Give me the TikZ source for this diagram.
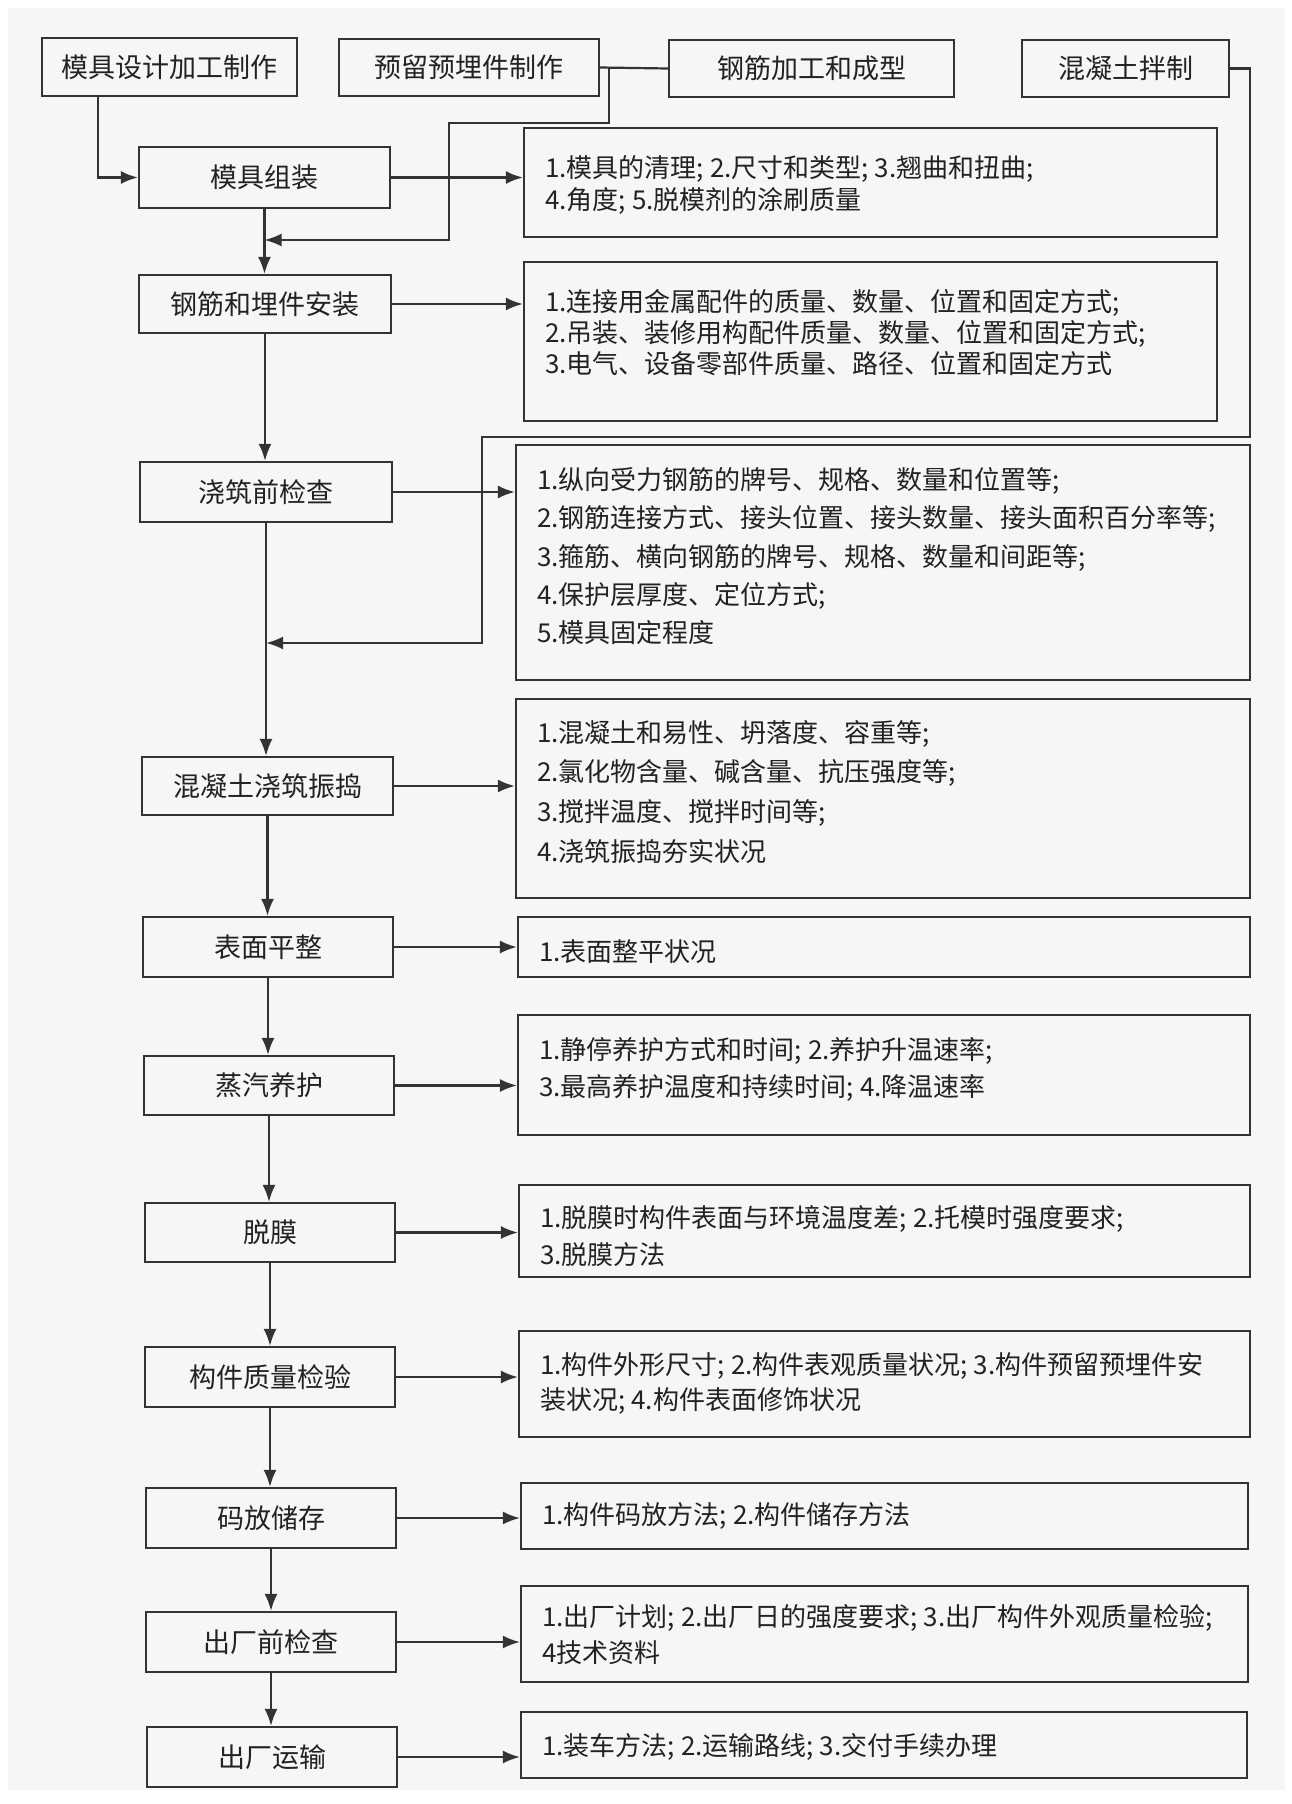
\documentclass[tikz,border=0pt]{standalone}
\usepackage{fontspec}
\setmainfont{Noto Sans CJK SC}
\usetikzlibrary{arrows.meta}

\definecolor{lineGray}{HTML}{333333}
\definecolor{inkGray}{HTML}{222222}
\definecolor{paperGray}{HTML}{F6F6F6}

\tikzset{
  stepbox/.style={draw=lineGray, line width=1.1pt, inner sep=0pt, text=inkGray,
    font=\fontsize{13.5pt}{16pt}\selectfont},
  checkText/.style={anchor=north west, align=left, inner sep=0pt, text=inkGray},
  link/.style={draw=lineGray, line width=1.1pt},
  arr/.style={link, -{Latex[length=8.5pt,width=6.5pt]}}
}

% box from its corners: name, x1, y1, x2, y2, text
\newcommand{\flowBox}[6]{%
  \pgfmathsetmacro{\boxW}{(#4-#2)/2}%
  \pgfmathsetmacro{\boxH}{(#5-#3)/2}%
  \node[stepbox, minimum width=\boxW pt, minimum height=\boxH pt] (#1) at ({(#2+#4)/2},{(#3+#5)/2}) {#6};}

% text font of the check boxes, with its line distance
\newcommand{\checkFont}[1]{\fontsize{13pt}{#1pt}\selectfont}

\begin{document}
\begin{tikzpicture}[x=0.5pt, y=-0.5pt]

    \def\textIn{22}

    %% paper
    \useasboundingbox (0,0) rectangle (1291,1804);
    \fill[white] (0,0) rectangle (1291,1804);
    \fill[paperGray] (8,8) rectangle (1285,1790);

    % draw top row
    \flowBox{mjsj}{42}{38}{297}{96}{模具设计加工制作}
    \flowBox{ylyz}{339}{39}{599}{96}{预留预埋件制作}
    \flowBox{gjjg}{669}{40}{954}{97}{钢筋加工和成型}
    \flowBox{hntbz}{1022}{40}{1229}{97}{混凝土拌制}

    % draw main steps
    \flowBox{mjzz}{139}{147}{390}{208}{模具组装}
    \flowBox{gjaz}{139}{275}{391}{333}{钢筋和埋件安装}
    \flowBox{jzqjc}{140}{462}{392}{522}{浇筑前检查}
    \flowBox{hntzd}{142}{757}{393}{815}{混凝土浇筑振捣}
    \flowBox{bmpz}{143}{917}{393}{977}{表面平整}
    \flowBox{zqyh}{144}{1056}{394}{1115}{蒸汽养护}
    \flowBox{tm}{145}{1203}{395}{1262}{脱膜}
    \flowBox{gjjy}{145}{1347}{395}{1407}{构件质量检验}
    \flowBox{mfcc}{146}{1488}{396}{1548}{码放储存}
    \flowBox{ccjc}{146}{1612}{396}{1672}{出厂前检查}
    \flowBox{ccys}{147}{1727}{397}{1787}{出厂运输}

    % draw check boxes
    \flowBox{mjzzC}{524}{128}{1217}{237}{}
    \flowBox{gjazC}{524}{262}{1217}{421}{}
    \flowBox{jzqjcC}{516}{445}{1250}{680}{}
    \flowBox{hntzdC}{516}{699}{1250}{898}{}
    \flowBox{bmpzC}{518}{917}{1250}{977}{}
    \flowBox{zqyhC}{518}{1015}{1250}{1135}{}
    \flowBox{tmC}{519}{1185}{1250}{1277}{}
    \flowBox{gjjyC}{519}{1331}{1250}{1437}{}
    \flowBox{mfccC}{521}{1483}{1248}{1549}{}
    \flowBox{ccjcC}{521}{1586}{1248}{1682}{}
    \flowBox{ccysC}{521}{1712}{1247}{1778}{}

    % check texts
    \node[checkText, font=\checkFont{16}] (mjzzT) at ([shift={(\textIn,28)}]mjzzC.north west)
      {1.模具的清理; 2.尺寸和类型; 3.翘曲和扭曲;\\4.角度; 5.脱模剂的涂刷质量};
    \node[checkText, font=\checkFont{15.5}] (gjazT) at ([shift={(\textIn,28)}]gjazC.north west)
      {1.连接用金属配件的质量、数量、位置和固定方式;\\2.吊装、装修用构配件质量、数量、位置和固定方式;\\3.电气、设备零部件质量、路径、位置和固定方式};
    \node[checkText, font=\checkFont{19.2}] (jzqjcT) at ([shift={(\textIn,23)}]jzqjcC.north west)
      {1.纵向受力钢筋的牌号、规格、数量和位置等;\\2.钢筋连接方式、接头位置、接头数量、接头面积百分率等;\\3.箍筋、横向钢筋的牌号、规格、数量和间距等;\\4.保护层厚度、定位方式;\\5.模具固定程度};
    \node[checkText, font=\checkFont{19.8}] (hntzdT) at ([shift={(\textIn,22)}]hntzdC.north west)
      {1.混凝土和易性、坍落度、容重等;\\2.氯化物含量、碱含量、抗压强度等;\\3.搅拌温度、搅拌时间等;\\4.浇筑振捣夯实状况};
    \node[checkText, font=\checkFont{18}] (bmpzT) at ([shift={(\textIn,23)}]bmpzC.north west)
      {1.表面整平状况};
    \node[checkText, font=\checkFont{18.5}] (zqyhT) at ([shift={(\textIn,23)}]zqyhC.north west)
      {1.静停养护方式和时间; 2.养护升温速率;\\3.最高养护温度和持续时间; 4.降温速率};
    \node[checkText, font=\checkFont{18.5}] (tmT) at ([shift={(\textIn,21)}]tmC.north west)
      {1.脱膜时构件表面与环境温度差; 2.托模时强度要求;\\3.脱膜方法};
    \node[checkText, font=\checkFont{17.5}] (gjjyT) at ([shift={(\textIn,22)}]gjjyC.north west)
      {1.构件外形尺寸; 2.构件表观质量状况; 3.构件预留预埋件安\\装状况; 4.构件表面修饰状况};
    \node[checkText, font=\checkFont{18}] (mfccT) at ([shift={(\textIn,20)}]mfccC.north west)
      {1.构件码放方法; 2.构件储存方法};
    \node[checkText, font=\checkFont{18}] (ccjcT) at ([shift={(\textIn,19)}]ccjcC.north west)
      {1.出厂计划; 2.出厂日的强度要求; 3.出厂构件外观质量检验;\\4技术资料};
    \node[checkText, font=\checkFont{18}] (ccysT) at ([shift={(\textIn,22)}]ccysC.north west)
      {1.装车方法; 2.运输路线; 3.交付手续办理};

    % draw feeds from the top row
    \coordinate (mjsjOut) at (98,96);
    \draw[arr] (mjsjOut) |- (mjzz.west);

    \draw[link] (ylyz.east) -- (gjjg.west);
    \coordinate (ylyzJoin) at (609,67);
    \coordinate (ylyzBend) at (449,123);
    \coordinate (ylyzDown) at (449,240);
    \draw[arr] (ylyzJoin) |- (ylyzBend) -- (ylyzDown) -- (ylyzDown -| mjzz.south);

    \coordinate (hntCorner) at (1250,437);
    \coordinate (hntDown) at (482,643);
    \draw[arr] (hntbz.east) -| (hntCorner) -| (hntDown) -- (hntDown -| jzqjc.south);

    % draw main line
    \foreach \a/\b in {mjzz/gjaz, gjaz/jzqjc, jzqjc/hntzd, hntzd/bmpz, bmpz/zqyh,
                       zqyh/tm, tm/gjjy, gjjy/mfcc, mfcc/ccjc, ccjc/ccys}
      \draw[arr] (\a.south) -- (\a.south |- \b.north);

    % draw arrows to the checks
    \foreach \s in {mjzz, gjaz, jzqjc, hntzd, bmpz, zqyh, tm, gjjy, mfcc, ccjc, ccys}
      \draw[arr] (\s.east) -- (\s.east -| \s C.west);

\end{tikzpicture}
\end{document}
